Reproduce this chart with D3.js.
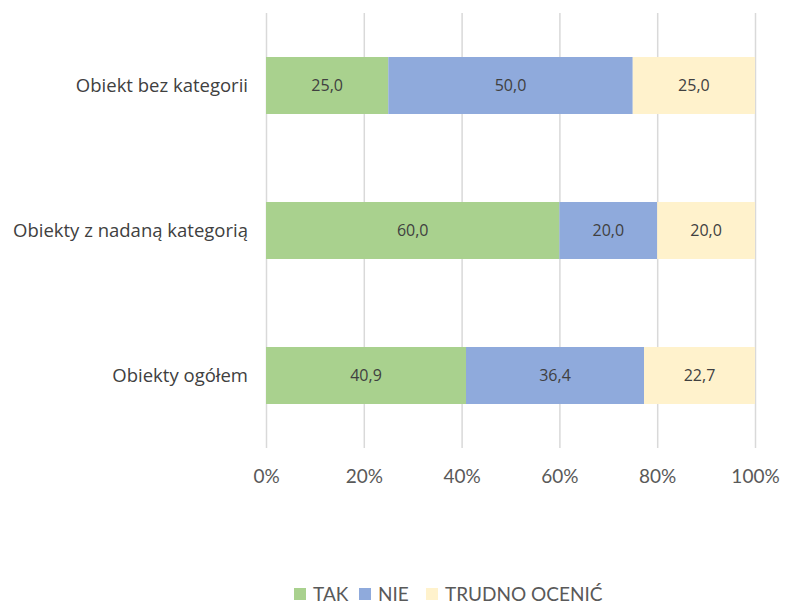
<!DOCTYPE html>
<html>
<head>
<meta charset="utf-8">
<script src="https://cdn.jsdelivr.net/npm/d3@7"></script>
<style>
  body { margin: 0; background: #fff; }
  text { font-family: "Open Sans", Lato, sans-serif; }
</style>
</head>
<body>
<div id="chart"></div>
<script>
var categories = ["Obiekt bez kategorii", "Obiekty z nadaną kategorią", "Obiekty ogółem"]
var seriesNames = ["TAK", "NIE", "TRUDNO OCENIĆ"]
var tak = [25.0, 60.0, 40.9]
var nie = [50.0, 20.0, 36.4]
var trudno = [25.0, 20.0, 22.7]
var ticks = [0, 20, 40, 60, 80, 100]
var colors = ["#a9d18e", "#8faadc", "#fff2cc"]

var width = 786, height = 605
var svg = d3.select("#chart").append("svg")
  .attr("width", width)
  .attr("height", height)

var rows = categories.map(function(c, i) {
  return { cat: c, TAK: tak[i], NIE: nie[i], "TRUDNO OCENIĆ": trudno[i] }
})
var stacked = d3.stack().keys(seriesNames)(rows)

var x = d3.scaleLinear().domain([0, 100]).range([266, 755])
var y = d3.scaleBand().domain(categories).range([13, 448])
  .paddingInner(0.607).paddingOuter(0.3035)

// gridlines
svg.append("g").selectAll("line")
  .data(ticks).enter().append("line")
  .attr("x1", function(d) { return x(d) + 0.5 })
  .attr("x2", function(d) { return x(d) + 0.5 })
  .attr("y1", 13).attr("y2", 448)
  .attr("stroke", "#d9d9d9").attr("stroke-width", 1.5)

var groups = svg.append("g").selectAll("g")
  .data(stacked).enter().append("g")
  .attr("fill", function(d, i) { return colors[i] })

groups.selectAll("rect")
  .data(function(d) { return d }).enter().append("rect")
  .attr("x", function(d) { return x(d[0]) })
  .attr("width", function(d) { return x(d[1]) - x(d[0]) })
  .attr("y", function(d) { return y(d.data.cat) })
  .attr("height", y.bandwidth())

groups.selectAll("text")
  .data(function(d) { return d }).enter().append("text")
  .attr("x", function(d) { return (x(d[0]) + x(d[1])) / 2 })
  .attr("y", function(d) { return y(d.data.cat) + y.bandwidth() / 2 })
  .attr("dy", "0.35em")
  .attr("text-anchor", "middle")
  .attr("fill", "#404040")
  .style("font-size", "16px")
  .text(function(d) { return (d[1] - d[0]).toFixed(1).replace(".", ",") })

// category labels
svg.append("g").selectAll("text")
  .data(categories).enter().append("text")
  .attr("x", 248)
  .attr("y", function(d) { return y(d) + y.bandwidth() / 2 })
  .attr("dy", "0.35em")
  .attr("text-anchor", "end")
  .attr("fill", "#404040")
  .style("font-size", "18.5px")
  .text(function(d) { return d })

// x axis labels
var xAxis = svg.append("g")
  .attr("transform", "translate(0,448)")
  .call(d3.axisBottom(x).tickValues(ticks).tickSize(0).tickPadding(22)
    .tickFormat(function(d) { return d + "%" }))
xAxis.select(".domain").remove()
xAxis.selectAll("text")
  .attr("fill", "#595959")
  .style("font-size", "19px")
  .style("font-family", "Lato, sans-serif")

// legend
var legendX = [294, 359, 426]
var legend = svg.append("g").selectAll("g")
  .data(seriesNames).enter().append("g")
  .attr("transform", function(d, i) { return "translate(" + legendX[i] + ",588)" })
legend.append("rect")
  .attr("width", 12).attr("height", 12)
  .attr("fill", function(d, i) { return colors[i] })
legend.append("text")
  .attr("x", 19).attr("y", 6).attr("dy", "0.35em")
  .attr("fill", "#595959")
  .style("font-size", "19px")
  .style("font-family", "Lato, sans-serif")
  .text(function(d) { return d })
</script>
</body>
</html>
